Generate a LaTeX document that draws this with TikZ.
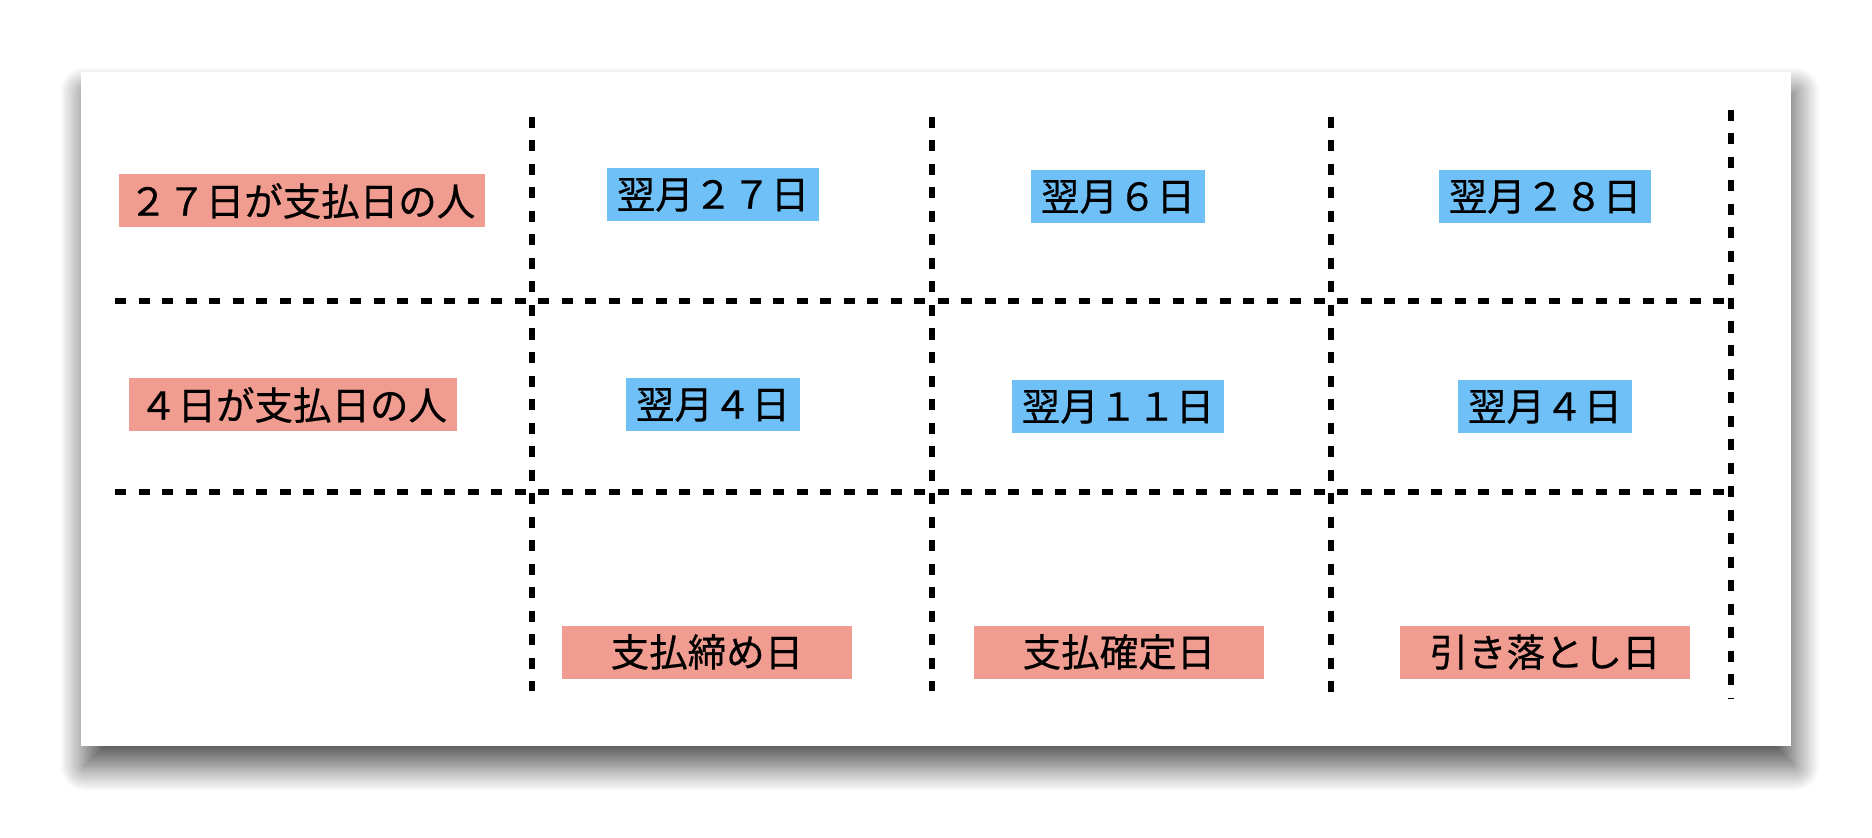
\documentclass[tikz,border=0pt]{standalone}
\usepackage{fontspec}
\setmainfont{Noto Sans CJK JP}[FakeBold=0.5]
\usetikzlibrary{positioning,shadows.blur}
\definecolor{salmon}{HTML}{F19C91}
\definecolor{sky}{HTML}{70C0F8}
\tikzset{tag/.style={fill=salmon,inner xsep=4pt,inner ysep=0pt,minimum height=21.2pt,font=\fontsize{15.4}{15.4}\selectfont},
  day/.style={tag,fill=sky},
  grid/.style={line width=2.1pt,dash pattern=on 4.4pt off 5pt}}

\begin{document}
\begin{tikzpicture}[x=0.4pt,y=-0.4pt,stamp/.style={tag,minimum width=116pt}]
    \useasboundingbox (0,0) rectangle (1872,838);
    % card
    \fill[white,blur shadow={shadow xshift=1.5pt,shadow yshift=-8pt,shadow blur radius=10pt,shadow blur steps=25,shadow opacity=70}] (81,72) rectangle (1791,746);
    % grid
    \foreach \x/\t/\b in {532/117/691,932/117/691,1331/117/692,1731/110/698}
        \draw[grid] (\x,\t) -- (\x,\b);
    \foreach \y in {301,492}
        \draw[grid] (115,\y) -- (1731,\y);
    % rows
    \node [tag] (p27) at (302,201) {２７日が支払日の人};
    \node [tag] (p4) at (293,405) {４日が支払日の人};
    \node [day] (a1) at (713,195) {翌月２７日};
    \node [day] (b1) at (1118,197) {翌月６日};
    \node [day] (c1) at (1545,197) {翌月２８日};
    \node [day] (a2) at (713,405) {翌月４日};
    \node [day] (b2) at (1118,407) {翌月１１日};
    \node [day] (c2) at (1545,407) {翌月４日};
    % bottom
    \node [stamp] (close) at (707,652) {支払締め日};
    \node [stamp] (fix) at (1119,652) {支払確定日};
    \node [stamp] (debit) at (1545,652) {引き落とし日};
\end{tikzpicture}
\end{document}
